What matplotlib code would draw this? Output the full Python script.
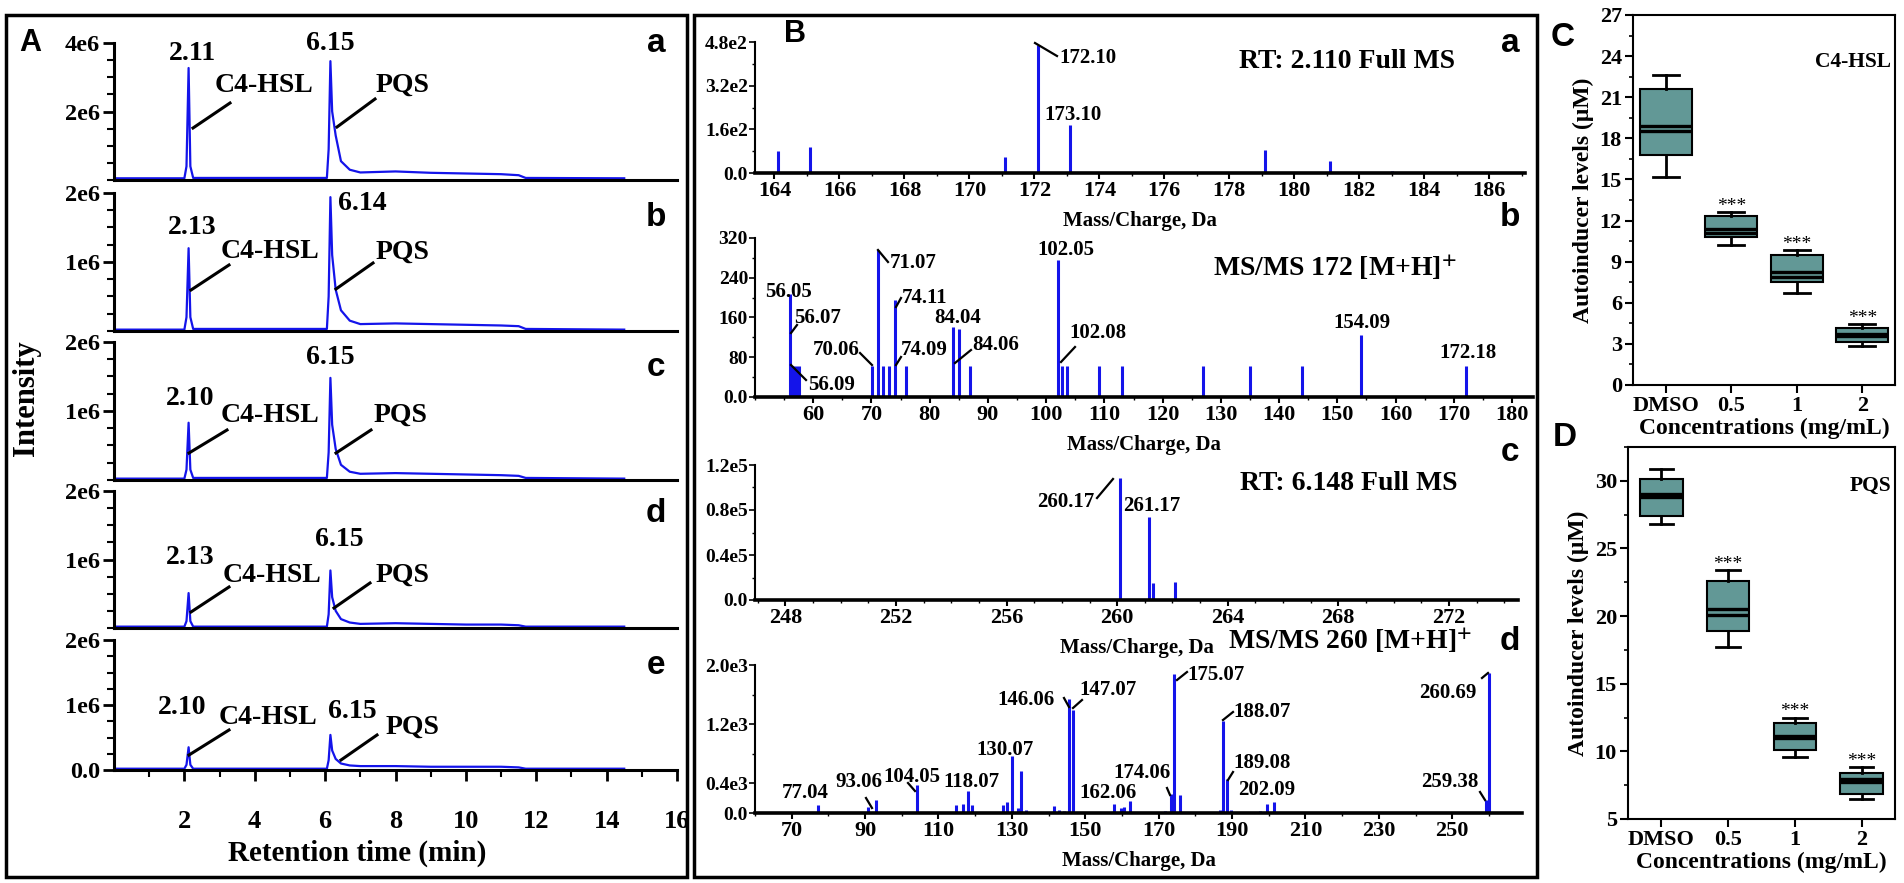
import matplotlib
matplotlib.use('Agg')
import matplotlib.pyplot as plt
from matplotlib.patches import Rectangle
from matplotlib.lines import Line2D
from matplotlib.ticker import FixedLocator, FixedFormatter, MultipleLocator

plt.rcParams['font.family'] = ['Liberation Serif', 'DejaVu Serif']
plt.rcParams['font.weight'] = 'bold'
plt.rcParams['axes.labelweight'] = 'bold'
plt.rcParams['mathtext.fontset'] = 'stix'

# ---------------- panel A: chromatograms (intensity in 1e6 counts) ----------------
rt_min = [0, 2.0, 2.06, 2.12, 2.17, 2.25, 6.05, 6.10, 6.15, 6.20, 6.30, 6.45, 6.70,
          7.0, 8.0, 9.0, 10.0, 11.0, 11.5, 11.7, 14.5]
trace_a = [0.05, 0.05, 0.40, 3.27, 0.40, 0.06, 0.06, 0.90, 3.47, 2.00, 1.30, 0.55, 0.30,
           0.22, 0.25, 0.21, 0.19, 0.17, 0.14, 0.06, 0.05]
trace_b = [0.02, 0.02, 0.20, 1.20, 0.20, 0.03, 0.03, 0.50, 1.94, 1.10, 0.60, 0.30, 0.15,
           0.10, 0.11, 0.10, 0.09, 0.08, 0.07, 0.03, 0.02]
trace_c = [0.02, 0.02, 0.15, 0.83, 0.15, 0.03, 0.03, 0.40, 1.48, 0.80, 0.45, 0.22, 0.12,
           0.09, 0.10, 0.09, 0.08, 0.07, 0.06, 0.03, 0.02]
trace_d = [0.02, 0.02, 0.10, 0.51, 0.10, 0.02, 0.02, 0.20, 0.84, 0.45, 0.25, 0.13, 0.08,
           0.06, 0.07, 0.06, 0.05, 0.05, 0.04, 0.02, 0.02]
trace_e = [0.02, 0.02, 0.08, 0.35, 0.08, 0.02, 0.02, 0.15, 0.54, 0.30, 0.17, 0.10, 0.07,
           0.06, 0.06, 0.05, 0.05, 0.05, 0.04, 0.02, 0.02]
rt_labels = [['2.11', '6.15'], ['2.13', '6.14'], ['2.10', '6.15'], ['2.13', '6.15'], ['2.10', '6.15']]

# ---------------- panel B: mass spectra ----------------
msa_mz = [164.1, 165.1, 171.1, 172.1, 173.1, 179.1, 181.1, 183.0]
msa_int = [80, 95, 58, 470, 176, 83, 44, 8]

msb_mz = [56.05, 56.5, 57.0, 57.5, 70.06, 71.07, 72.0, 73.0, 74.11, 76.0, 84.04, 85.0, 87.0,
          102.05, 102.8, 103.6, 109.0, 113.0, 127.0, 135.0, 144.0, 154.09, 172.18]
msb_int = [208, 62, 62, 62, 62, 295, 62, 62, 195, 62, 141, 136, 62,
           275, 62, 62, 62, 62, 62, 62, 62, 124, 62]

msc_mz = [260.1, 261.17, 261.3, 262.1]
msc_int = [1.08e5, 0.74e5, 0.15e5, 0.16e5]

msd_mz = [77.04, 90.9, 93.06, 104.05, 114.8, 116.7, 118.07, 119.0, 127.6, 128.7, 130.07, 131.8,
          132.6, 133.8, 141.5, 142.8, 144.2, 145.6, 146.6, 157.8, 159.6, 160.5, 162.06, 171.8,
          173.4, 174.3, 175.7, 186.8, 187.6, 188.7, 189.8, 197.7, 199.6, 201.5, 203.6, 259.2, 259.9]
msd_int = [106, 77, 170, 383, 106, 128, 294, 106, 106, 150, 766, 72,
           566, 40, 90, 40, 30, 1535, 1390, 117, 70, 80, 158, 30,
           253, 1880, 239, 40, 1246, 465, 40, 30, 117, 150, 20, 180, 1890]

# ---------------- panels C, D: box plots (uM) ----------------
conc_labels = ['DMSO', '0.5', '1', '2']
# whislo, q1, median, mean, q3, whishi
c4hsl_box = [[15.2, 16.8, 18.5, 18.9, 21.6, 22.6],
             [10.2, 10.8, 11.1, 11.4, 12.3, 12.6],
             [6.74, 7.54, 7.86, 8.25, 9.46, 9.85],
             [2.87, 3.11, 3.60, 3.75, 4.18, 4.43]]
pqs_box = [[26.8, 27.4, 28.8, 29.0, 30.1, 30.85],
           [17.7, 18.9, 20.1, 20.5, 22.6, 23.4],
           [9.6, 10.1, 11.0, 11.1, 12.1, 12.5],
           [6.5, 6.85, 7.75, 7.95, 8.4, 8.85]]

W, H = 1904, 883
BLUE = '#1414ea'
TEAL = '#629896'
SANS = ['Liberation Sans', 'DejaVu Sans']

fig = plt.figure(figsize=(W / 100, H / 100), dpi=100)


def px_axes(x0, y0, x1, y1):
    return fig.add_axes([x0 / W, 1 - y1 / H, (x1 - x0) / W, (y1 - y0) / H])


def ftext(x, y, s, **kw):
    fig.text(x / W, 1 - y / H, s, **kw)


def fline(p, q, lw=1.6):
    fig.add_artist(Line2D([p[0] / W, q[0] / W], [1 - p[1] / H, 1 - q[1] / H],
                          transform=fig.transFigure, color='k', lw=lw))


# panel frames
for x0, x1 in [(6, 687), (694, 1537)]:
    fig.add_artist(Rectangle((x0 / W, 1 - 877 / H), (x1 - x0) / W, (877 - 15) / H,
                             transform=fig.transFigure, fill=False, lw=2.5, ec='k'))

# ---------------- panel A ----------------
A_rows = [(43, 180), (193, 331), (342, 480), (491, 628), (640, 770)]
A_traces = [trace_a, trace_b, trace_c, trace_d, trace_e]
A_num_pos = [[(192, 53), (330, 43)], [(192, 228), (362, 203)], [(190, 398), (330, 358)],
             [(190, 558), (339, 540)], [(182, 707), (352, 712)]]
A_name_pos = [[(264, 85), (402, 85)], [(270, 252), (402, 252)], [(270, 415), (400, 415)],
              [(272, 575), (402, 575)], [(268, 717), (412, 727)]]
A_leaders = [[((193, 128), (230, 103)), ((337, 127), (375, 99))],
             [((191, 290), (229, 265)), ((336, 289), (373, 263))],
             [((189, 453), (227, 430)), ((336, 453), (371, 430))],
             [((191, 612), (229, 587)), ((334, 608), (370, 583))],
             [((189, 755), (229, 730)), ((341, 760), (377, 735))]]
A_letter_y = [43, 218, 367, 513, 665]

for i, (top, bot) in enumerate(A_rows):
    ax = px_axes(114, top, 677, bot)
    ax.plot(rt_min, A_traces[i], color=BLUE, lw=1.6)
    ax.set_xlim(0, 16)
    if i == 0:
        ax.set_ylim(0, 4)
        ax.yaxis.set_major_locator(FixedLocator([2, 4]))
        ax.yaxis.set_major_formatter(FixedFormatter(['2e6', '4e6']))
        ax.yaxis.set_minor_locator(MultipleLocator(0.5))
    else:
        ax.set_ylim(0, 2)
        if i == 4:
            ax.yaxis.set_major_locator(FixedLocator([0, 1, 2]))
            ax.yaxis.set_major_formatter(FixedFormatter(['0.0', '1e6', '2e6']))
        else:
            ax.yaxis.set_major_locator(FixedLocator([1, 2]))
            ax.yaxis.set_major_formatter(FixedFormatter(['1e6', '2e6']))
        ax.yaxis.set_minor_locator(MultipleLocator(0.25))
    for s in ['top', 'right']:
        ax.spines[s].set_visible(False)
    ax.spines['left'].set_linewidth(2.2)
    ax.spines['bottom'].set_linewidth(2.2)
    ax.tick_params(axis='y', which='major', direction='out', length=8, width=2,
                   labelsize=17.5, pad=2)
    ax.tick_params(axis='y', which='minor', direction='out', length=5, width=1.5)
    if i == 4:
        ax.xaxis.set_major_locator(FixedLocator(list(range(2, 17, 2))))
        ax.xaxis.set_minor_locator(FixedLocator(list(range(1, 16, 2))))
        ax.tick_params(axis='x', which='major', direction='out', length=8, width=2,
                       labelsize=19, pad=21)
        ax.tick_params(axis='x', which='minor', direction='out', length=5, width=1.5)
    else:
        ax.tick_params(axis='x', which='both', bottom=False, labelbottom=False)
    for lab, pos in zip(rt_labels[i], A_num_pos[i]):
        ftext(pos[0], pos[1], lab, fontsize=20, ha='center', va='center')
    for lab, pos in zip(['C4-HSL', 'PQS'], A_name_pos[i]):
        ftext(pos[0], pos[1], lab, fontsize=20, ha='center', va='center')
    for p, q in A_leaders[i]:
        fline(p, q, lw=2.2)
    ftext(656, A_letter_y[i], 'abcde'[i], fontsize=24, family=SANS, ha='center', va='center')

ftext(30, 43, 'A', fontsize=22, family=SANS, ha='center', va='center')
ftext(27, 398, 'Intensity', fontsize=22, rotation=90, ha='center', va='center')
ftext(357, 853, 'Retention time (min)', fontsize=21, ha='center', va='center')

# ---------------- panel B ----------------
B_specs = [
    dict(rect=(755, 42, 1525, 173), mz=msa_mz, inten=msa_int, xlim=(163.4, 187.1), ylim=(0, 480),
         yt=[0, 160, 320, 480], ytl=['0.0', '1.6e2', '3.2e2', '4.8e2'], ymin=80,
         xt=list(range(164, 187, 2)), xmin=1),
    dict(rect=(755, 238, 1533, 397), mz=msb_mz, inten=msb_int, xlim=(50, 183.6), ylim=(0, 320),
         yt=[0, 80, 160, 240, 320], ytl=['0.0', '80', '160', '240', '320'], ymin=40,
         xt=list(range(60, 181, 10)), xmin=5),
    dict(rect=(755, 465, 1518, 600), mz=msc_mz, inten=msc_int, xlim=(246.9, 274.5), ylim=(0, 1.2e5),
         yt=[0, 4e4, 8e4, 1.2e5], ytl=['0.0', '0.4e5', '0.8e5', '1.2e5'], ymin=2e4,
         xt=list(range(248, 273, 4)), xmin=1),
    dict(rect=(755, 665, 1522, 813), mz=msd_mz, inten=msd_int, xlim=(60, 269), ylim=(0, 2000),
         yt=[0, 400, 1200, 2000], ytl=['0.0', '0.4e3', '1.2e3', '2.0e3'], ymin=400,
         xt=list(range(70, 251, 20)), xmin=10),
]
for spec in B_specs:
    ax = px_axes(*spec['rect'])
    ax.vlines(spec['mz'], 0, spec['inten'], color=BLUE, lw=2.2)
    ax.set_xlim(*spec['xlim'])
    ax.set_ylim(*spec['ylim'])
    ax.yaxis.set_major_locator(FixedLocator(spec['yt']))
    ax.yaxis.set_major_formatter(FixedFormatter(spec['ytl']))
    ax.yaxis.set_minor_locator(MultipleLocator(spec['ymin']))
    ax.xaxis.set_major_locator(FixedLocator(spec['xt']))
    ax.xaxis.set_minor_locator(MultipleLocator(spec['xmin']))
    for s in ['top', 'right']:
        ax.spines[s].set_visible(False)
    ax.spines['left'].set_linewidth(1.5)
    ax.spines['bottom'].set_linewidth(2.6)
    ax.tick_params(axis='y', which='major', direction='out', length=4, width=1.2,
                   labelsize=14, pad=1)
    ax.tick_params(axis='y', which='minor', direction='out', length=2.5, width=1)
    ax.tick_params(axis='x', which='major', direction='out', length=4, width=1.5,
                   labelsize=16, pad=2)
    ax.tick_params(axis='x', which='minor', direction='out', length=2.5, width=1)
    ax.set_xlabel('Mass/Charge, Da', fontsize=15, labelpad=7)

ftext(795, 34, 'B', fontsize=22, family=SANS, ha='center', va='center')
for lab, y in zip('abcd', [43, 217, 453, 642]):
    ftext(1510, y, lab, fontsize=24, family=SANS, ha='center', va='center')
ftext(1455, 62, 'RT: 2.110 Full MS', fontsize=20, ha='right', va='center')
ftext(1457, 267, r'MS/MS 172 [M+H]$^{\mathbf{+}}$', fontsize=20, ha='right', va='center')
ftext(1457, 483, 'RT: 6.148 Full MS', fontsize=20, ha='right', va='center')
ftext(1472, 640, r'MS/MS 260 [M+H]$^{\mathbf{+}}$', fontsize=20, ha='right', va='center')

B_peak_text = [
    ('172.10', 1088, 58), ('173.10', 1073, 115),
    ('56.05', 788, 292), ('56.07', 818, 318), ('56.09', 832, 385), ('70.06', 836, 350),
    ('71.07', 913, 263), ('74.11', 925, 298), ('74.09', 924, 350), ('84.04', 958, 318),
    ('84.06', 996, 345), ('102.05', 1066, 250), ('102.08', 1098, 333), ('154.09', 1362, 323),
    ('172.18', 1468, 353),
    ('260.17', 1066, 502), ('261.17', 1152, 506),
    ('77.04', 805, 793), ('93.06', 859, 782), ('104.05', 912, 777), ('118.07', 971, 782),
    ('130.07', 1005, 750), ('146.06', 1026, 700), ('147.07', 1108, 690), ('162.06', 1108, 793),
    ('174.06', 1142, 773), ('175.07', 1216, 675), ('188.07', 1262, 712), ('189.08', 1262, 763),
    ('202.09', 1267, 790), ('260.69', 1448, 693), ('259.38', 1450, 782),
]
for lab, x, y in B_peak_text:
    ftext(x, y, lab, fontsize=15, ha='center', va='center')

B_leaders = [((1035, 43), (1057, 56)),
             ((791, 333), (797, 325)), ((791, 365), (806, 380)), ((878, 250), (888, 262)),
             ((896, 307), (901, 298)), ((955, 363), (971, 350)), ((860, 353), (872, 365)),
             ((896, 365), (901, 357)), ((1061, 362), (1075, 347)),
             ((1097, 498), (1113, 479)),
             ((866, 798), (872, 808)), ((908, 783), (915, 791)), ((1064, 698), (1069, 707)),
             ((1073, 708), (1082, 700)), ((1177, 680), (1187, 672)), ((1223, 720), (1233, 712)),
             ((1228, 780), (1233, 772)), ((1167, 788), (1170, 795)), ((1482, 678), (1488, 673)),
             ((1480, 792), (1485, 800))]
for p, q in B_leaders:
    fline(p, q, lw=1.6)

# ---------------- panels C, D ----------------
def box_panel(rect, rows, ylim, ystep, yminor, title, title_y, width, capw):
    ax = px_axes(*rect)
    stats = [dict(whislo=r[0], q1=r[1], med=r[2], mean=r[3], q3=r[4], whishi=r[5], fliers=[])
             for r in rows]
    ax.bxp(stats, positions=[1, 2, 3, 4], widths=width, patch_artist=True,
           showmeans=True, meanline=True, showfliers=False, capwidths=capw,
           boxprops=dict(facecolor=TEAL, edgecolor='k', lw=1.5),
           medianprops=dict(color='k', lw=2.4),
           meanprops=dict(color='k', lw=2.4, ls='-'),
           whiskerprops=dict(color='k', lw=2), capprops=dict(color='k', lw=2))
    ax.set_xlim(0.5, 4.5)
    ax.set_ylim(*ylim)
    ax.yaxis.set_major_locator(MultipleLocator(ystep))
    ax.yaxis.set_minor_locator(MultipleLocator(yminor))
    ax.set_xticks([1, 2, 3, 4])
    ax.set_xticklabels(conc_labels)
    for s in ax.spines.values():
        s.set_linewidth(1.5)
    ax.tick_params(axis='both', which='major', direction='out', length=6, width=1.5,
                   labelsize=16, pad=2)
    ax.tick_params(axis='y', which='minor', direction='out', length=3, width=1.2)
    for k in range(1, 4):
        ax.text(k + 1, rows[k][5] + 0.1, '***', fontsize=14, fontweight='normal',
                ha='center', va='baseline')
    ax.text(0.985, title_y, title, transform=ax.transAxes, fontsize=15.5,
            ha='right', va='center')
    ax.set_xlabel('Concentrations (mg/mL)', fontsize=17, labelpad=1)
    ax.set_ylabel('Autoinducer levels (\u03bcM)', fontsize=17, labelpad=4)
    return ax


box_panel((1633, 15, 1895, 385), c4hsl_box, (0, 27), 3, 1.5, 'C4-HSL', 0.873, 0.8, 0.4)
box_panel((1628, 447, 1895, 819), pqs_box, (5, 32.5), 5, 2.5, 'PQS', 0.895, 0.64, 0.35)
ftext(1563, 37, 'C', fontsize=24, family=SANS, ha='center', va='center')
ftext(1565, 437, 'D', fontsize=24, family=SANS, ha='center', va='center')

fig.savefig('out.png', dpi=100)
